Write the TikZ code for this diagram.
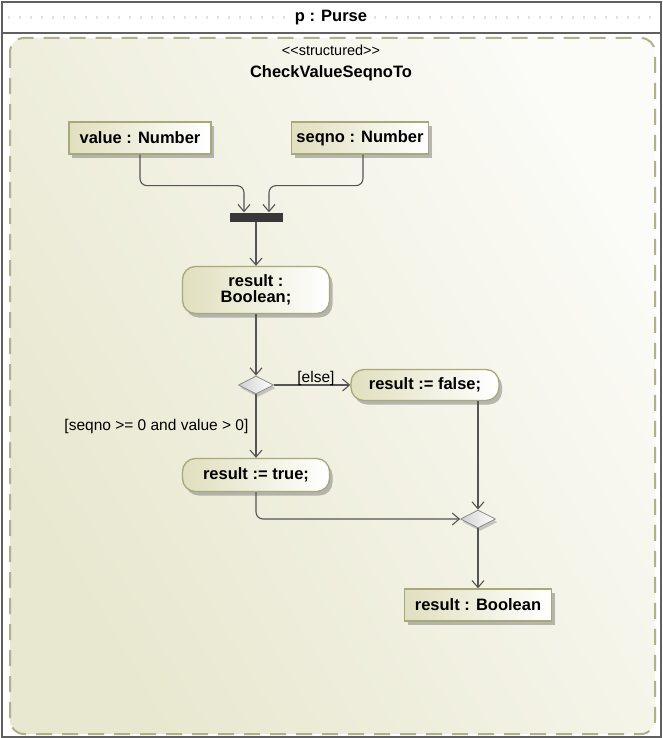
\documentclass[tikz,border=0pt]{standalone}
\usepackage{fontspec}
\setmainfont{Liberation Sans}
\usetikzlibrary{shapes.geometric,arrows.meta,shadows}
\definecolor{nodeborder}{HTML}{A8A87A}
\definecolor{nodefill}{HTML}{E0DFBE}
\definecolor{regionA}{HTML}{E8E7CF}
\definecolor{regionB}{HTML}{FBFBF7}
\definecolor{dashcol}{HTML}{B0B08C}
\definecolor{edgecol}{HTML}{555555}
\definecolor{framecol}{HTML}{606060}
\tikzset{
  base/.style={draw=nodeborder, line width=1.3pt, left color=nodefill, right color=white,
    drop shadow={shadow xshift=3pt, shadow yshift=-4pt, fill=black!45, opacity=0.6},
    font=\fontsize{16.5}{18}\selectfont\bfseries, inner sep=2pt, align=center},
  objbox/.style={base, rectangle, minimum height=32pt},
  actbox/.style={base, rectangle, rounded corners=13pt},
  decision/.style={diamond, draw=black!45, line width=0.8pt, left color=black!18, right color=white,
    minimum width=35pt, minimum height=18pt, inner sep=0pt,
    drop shadow={shadow xshift=2pt, shadow yshift=-3pt, fill=black!40, opacity=0.5}},
  forkbar/.style={rectangle, fill=black!78, minimum width=53pt, minimum height=9pt, inner sep=0pt},
  flow/.style={draw=edgecol, line width=1.1pt, -{Straight Barb[length=7pt,width=12pt]}, rounded corners=7pt},
  guard/.style={font=\fontsize{15.5}{17}\selectfont, inner sep=1pt},
  titletext/.style={font=\fontsize{16.5}{18}\selectfont\bfseries},
}
\begin{document}
\begin{tikzpicture}[x=1pt,y=-1pt]
\useasboundingbox (0,0) rectangle (663,738);
% outer frame
\fill[white] (0,0) rectangle (663,738);
\draw[black!12, line width=3pt, dash pattern=on 2pt off 9pt] (8,18) -- (288,18);
\draw[black!12, line width=3pt, dash pattern=on 2pt off 9pt] (374,18) -- (656,18);
\node[titletext] (title) at (331,18) {p : Purse};
% inner region
\shade[left color=regionA, right color=regionB, shading angle=120, rounded corners=14pt]
  (10,38) rectangle (655,734);
\draw[dashcol, line width=2pt, dash pattern=on 16pt off 10pt, rounded corners=14pt]
  (10,38) rectangle (655,734);
\draw[framecol, line width=2.2pt] (2,2) rectangle (661,737);
\draw[framecol, line width=1.6pt] (2,33) -- (661,33);
\node[font=\fontsize{14.5}{16}\selectfont] (stereo) at (331,50) {<\kern0pt<structured>\kern0pt>};
\node[titletext] (name) at (331,73) {CheckValueSeqnoTo};
% nodes
\node[objbox, minimum width=142pt] (val) at (140,138) {value : Number};
\node[objbox, minimum width=137pt] (seq) at (360,138) {seqno : Number};
\node[forkbar] (bar) at (256,217) {};
\node[actbox, minimum width=147pt, minimum height=47pt] (decl) at (256,290) {result :\\[-2pt]Boolean;};
\node[decision] (dec) at (256,385) {};
\node[actbox, minimum width=148pt, minimum height=31pt] (fls) at (425,385) {result := false;};
\node[actbox, minimum width=147pt, minimum height=33pt] (tru) at (256,475) {result := true;};
\node[decision] (mrg) at (478,519) {};
\node[objbox, minimum width=147pt] (res) at (478,605) {result : Boolean};
% connectors
\draw[flow] (val.south) -- ++(0,31) -| ([xshift=-12pt]bar.north);
\draw[flow] ([xshift=3pt]seq.south) -- ++(0,31) -| ([xshift=13pt]bar.north);
\draw[flow] (bar.south) -- (decl.north);
\draw[flow] (decl.south) -- (dec.north);
\draw[flow] (dec.east) -- node[guard, above, pos=0.55, yshift=-2pt] (elselbl) {[else]} (fls.west);
\draw[flow] (dec.south) -- node[guard, pos=0.5, left, xshift=-6pt] (guardlbl) {[seqno >= 0 and value > 0]} (tru.north);
\draw[flow] (tru.south) |- (mrg.west);
\draw[flow] (mrg.north |- fls.south) -- (mrg.north);
\draw[flow] (mrg.south) -- (res.north);
\end{tikzpicture}
\end{document}
